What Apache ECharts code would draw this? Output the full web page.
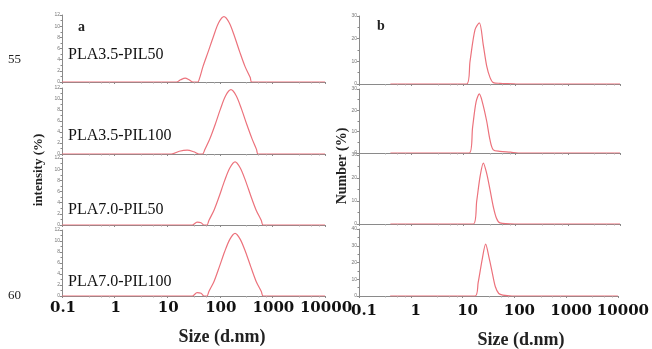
<!DOCTYPE html>
<html>
<head>
<meta charset="utf-8">
<script src="https://cdn.jsdelivr.net/npm/echarts@6/dist/echarts.min.js"></script>
<style>
  html, body { margin: 0; padding: 0; background: #fff; }
  #main { width: 652px; height: 349px; }
</style>
</head>
<body>
<div id="main"></div>
<script>
// sample names, top to bottom
const sampleNames = ["PLA3.5-PIL50", "PLA3.5-PIL100", "PLA7.0-PIL50", "PLA7.0-PIL100"];
const sizeTicks = [0.1, 1, 10, 100, 1000, 10000];

// panel a: intensity (%) vs size (d.nm)
const intensity1 = [[0.1, 0], [15, 0], [18, 0.4], [22, 0.7], [26, 0.4], [31, 0], [38, 0], [41, 0.6], [48, 2.8], [60, 5.4], [76, 8.2], [95, 10.6], [120, 11.7], [151, 10.6], [190, 8.2], [239, 5.4], [301, 2.8], [379, 0.8], [405, 0], [10000, 0]];
const intensity2 = [[0.1, 0], [12, 0], [17, 0.5], [24, 0.7], [32, 0.4], [40, 0], [47, 0], [52, 0.8], [65, 2.8], [82, 5.4], [103, 8.2], [129, 10.6], [163, 11.7], [205, 10.6], [258, 8.2], [325, 5.4], [409, 2.8], [500, 0.8], [535, 0], [10000, 0]];
const intensity3 = [[0.1, 0], [30, 0], [37, 0.5], [44, 0.4], [50, 0], [57, 0], [62, 0.8], [78, 2.7], [98, 5.2], [123, 7.9], [155, 10.2], [195, 11.3], [245, 10.2], [309, 7.9], [389, 5.2], [489, 2.7], [616, 0.8], [670, 0], [10000, 0]];
const intensity4 = [[0.1, 0], [30, 0], [37, 0.6], [44, 0.5], [50, 0], [57, 0], [62, 0.8], [78, 2.7], [98, 5.3], [123, 8.0], [155, 10.3], [195, 11.4], [245, 10.3], [309, 8.0], [389, 5.3], [489, 2.7], [616, 0.8], [670, 0], [10000, 0]];

// panel b: number (%) vs size (d.nm)
const number1 = [[0.4, 0], [11.6, 0], [13.4, 10], [16.7, 24], [20.2, 27], [24.1, 17], [27.9, 8], [32.4, 2.8], [37.4, 0.6], [50, 0.3], [90, 0.1], [100, 0], [10000, 0]];
const number2 = [[0.4, 0], [13, 0], [15, 12], [17.5, 24], [20.2, 27.7], [23, 24], [27.9, 15], [32.4, 6], [37.4, 1.5], [50, 0.8], [80, 0.4], [112, 0], [10000, 0]];
const number3 = [[0.4, 0], [15.5, 0], [18, 10], [21, 21], [24.1, 26.5], [27.9, 22], [32.4, 14.8], [37.4, 7.5], [43, 2.5], [50, 0.5], [97, 0], [10000, 0]];
const number4 = [[0.4, 0], [17.4, 0], [20, 8], [24, 22], [27.9, 31], [32.4, 23], [37.4, 14], [43, 5.5], [50, 1.5], [60, 0.5], [90, 0], [10000, 0]];

const intensityMax = [12, 12, 12, 12];
const numberMax = [30, 30, 30, 40];

const chart = echarts.init(document.getElementById("main"));

const lineColor = "#ec727c";
const axisColor = "#8a8a8a";

const leftTops = [15, 88, 158, 230];
const leftBottoms = [82, 154, 225, 296];
const rightTops = [16, 89, 155, 229];
const rightBottoms = [84, 153, 224, 296];

const grids = [];
const xAxes = [];
const yAxes = [];
const series = [];

function addPanel(idx, left, width, top, bottom, data, yMax, yInterval, showX, labelShift, labelMargin) {
  grids.push({ left: left, width: width, top: top, height: bottom - top });
  xAxes.push({
    gridIndex: idx,
    type: "log",
    logBase: 10,
    min: 0.1,
    max: 10000,
    axisLine: { show: true, lineStyle: { color: axisColor, width: 1 } },
    axisTick: { show: true, length: 2, lineStyle: { color: axisColor } },
    minorTick: { show: true, splitNumber: 4, length: 1.5, lineStyle: { color: "#aaa" } },
    splitLine: { show: false },
    axisLabel: {
      show: showX,
      margin: labelMargin,
      padding: [0, 0, 0, labelShift],
      color: "#111",
      fontFamily: "DejaVu Serif",
      fontWeight: "bold",
      fontSize: 15,
      formatter: v => {
        const r = +Number(v).toPrecision(6);
        return sizeTicks.includes(r) ? String(r) : "";
      }
    }
  });
  yAxes.push({
    gridIndex: idx,
    type: "value",
    min: 0,
    max: yMax,
    interval: yInterval,
    axisLine: { show: true, lineStyle: { color: axisColor, width: 1 } },
    axisTick: { show: true, length: 2, lineStyle: { color: axisColor } },
    minorTick: { show: true, splitNumber: 2, length: 1.5, lineStyle: { color: axisColor } },
    splitLine: { show: false },
    axisLabel: { fontSize: 5, color: "#777", margin: 2 }
  });
  series.push({
    type: "line",
    xAxisIndex: idx,
    yAxisIndex: idx,
    data: data,
    smooth: 0.3,
    symbol: "none",
    lineStyle: { color: lineColor, width: 1.2 },
    z: 3
  });
}

const intensitySets = [intensity1, intensity2, intensity3, intensity4];
const numberSets = [number1, number2, number3, number4];

for (let i = 0; i < 4; i++) {
  addPanel(i, 62, 263, leftTops[i], leftBottoms[i], intensitySets[i], intensityMax[i], 2, i === 3, 2, 5);
}
for (let i = 0; i < 4; i++) {
  addPanel(4 + i, 359, 261, rightTops[i], rightBottoms[i], numberSets[i], numberMax[i], 10, i === 3, 10, 8);
}

const serif = "Liberation Serif";
const labelYs = [55, 136, 210, 282];
const graphic = [
  { type: "text", left: 8, top: 53, style: { text: "55", font: "13px " + serif, fill: "#222" } },
  { type: "text", left: 8, top: 289, style: { text: "60", font: "13px " + serif, fill: "#222" } },
  { type: "text", left: 78, top: 20, style: { text: "a", font: "bold 14px " + serif, fill: "#222" } },
  { type: "text", left: 377, top: 19, style: { text: "b", font: "bold 14px " + serif, fill: "#222" } },
  {
    type: "text", x: 39, y: 170, rotation: Math.PI / 2,
    style: { text: "intensity (%)", font: "bold 13px " + serif, fill: "#222", textAlign: "center", textVerticalAlign: "middle" }
  },
  {
    type: "text", x: 342, y: 166, rotation: Math.PI / 2,
    style: { text: "Number (%)", font: "bold 14px " + serif, fill: "#222", textAlign: "center", textVerticalAlign: "middle" }
  },
  {
    type: "text", x: 222, y: 337,
    style: { text: "Size (d.nm)", font: "bold 18px " + serif, fill: "#222", textAlign: "center", textVerticalAlign: "middle" }
  },
  {
    type: "text", x: 521, y: 340,
    style: { text: "Size (d.nm)", font: "bold 18px " + serif, fill: "#222", textAlign: "center", textVerticalAlign: "middle" }
  }
];
sampleNames.forEach((name, i) => {
  graphic.push({
    type: "text", x: 68, y: labelYs[i],
    style: { text: name, font: "16px " + serif, fill: "#111", textAlign: "left", textVerticalAlign: "middle" }
  });
});

chart.setOption({
  animation: false,
  grid: grids,
  xAxis: xAxes,
  yAxis: yAxes,
  series: series,
  graphic: graphic
});
</script>
</body>
</html>
